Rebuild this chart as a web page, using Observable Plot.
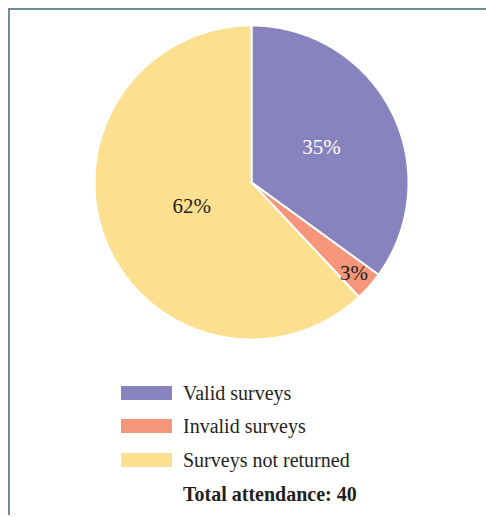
<!DOCTYPE html>
<html>
<head>
<meta charset="utf-8">
<script src="https://cdn.jsdelivr.net/npm/d3@7"></script>
<script src="https://cdn.jsdelivr.net/npm/@observablehq/plot@0.6"></script>
<style>
  html, body { margin: 0; padding: 0; background: #ffffff; }
  #wrap { position: relative; width: 486px; height: 517px; overflow: hidden; background: #fff; }
  #frame { position: absolute; left: 8px; top: 8px; right: -4px; bottom: 2px;
           border-top: 2px solid #6f8c9b; border-left: 2px solid #6f8c9b; }
  #chart { position: absolute; left: 0; top: 0; }
  .legend { position: absolute; left: 0; top: 0; font-family: "Liberation Serif", "DejaVu Serif", serif; color: #231f20; }
  .sw { position: absolute; left: 121px; width: 51px; height: 14px; }
  .lt { position: absolute; left: 183px; font-size: 20px; line-height: 20px; white-space: nowrap; }
</style>
</head>
<body>
<div id="wrap">
  <div id="frame"></div>
  <div id="chart"></div>
  <div class="legend" id="legend"></div>
</div>
<script>
// ---- data ----
const categories = ["Valid surveys", "Invalid surveys", "Surveys not returned"];
const percents = [35, 3, 62];
const colors = ["#8882be", "#f5967a", "#fde08f"];
const totalLabel = "Total attendance: 40";

// ---- layout constants ----
const W = 486, H = 360, CX = 251, CY = 182, R = 157;

// build slices from data (angles clockwise from top)
const total = d3.sum(percents);
let acc = 0;
const slices = categories.map((c, i) => {
  const a0 = acc / total * 2 * Math.PI;
  acc += percents[i];
  const a1 = acc / total * 2 * Math.PI;
  return { category: c, value: percents[i], a0, a1 };
});

const polyPoints = [];
for (const s of slices) {
  polyPoints.push({ category: s.category, x: 0, y: 0 });
  const n = Math.max(2, Math.ceil((s.a1 - s.a0) / (Math.PI / 360)));
  for (let k = 0; k <= n; k++) {
    const a = s.a0 + (s.a1 - s.a0) * k / n;
    polyPoints.push({ category: s.category, x: Math.sin(a), y: Math.cos(a) });
  }
}

const labelPts = slices.map(s => {
  const m = (s.a0 + s.a1) / 2;
  const f = s.value < 5 ? 0.87 : s.value > 50 ? 0.41 : 0.5;
  return { category: s.category, text: `${s.value}%`, x: f * Math.sin(m), y: f * Math.cos(m) };
});

const plot = Plot.plot({
  width: W,
  height: H,
  margin: 0,
  style: { background: "transparent" },
  x: { domain: [-CX / R, (W - CX) / R], range: [0, W], axis: null },
  y: { domain: [-(H - CY) / R, CY / R], range: [H, 0], axis: null },
  color: { domain: categories, range: colors },
  marks: [
    Plot.line(polyPoints, {
      x: "x", y: "y", z: "category", fill: "category",
      stroke: "white", strokeWidth: 2, curve: "linear-closed", strokeLinejoin: "round"
    }),
    Plot.text(labelPts, {
      x: "x", y: "y", text: "text",
      fill: d => d.category === categories[0] ? "#ffffff" : "#231f20",
      fontFamily: "Liberation Serif", fontSize: 21
    })
  ]
});
document.getElementById("chart").appendChild(plot);

// ---- legend ----
const legend = document.getElementById("legend");
const rowTops = [386, 419, 453];
categories.forEach((c, i) => {
  const sw = document.createElement("div");
  sw.className = "sw";
  sw.style.top = rowTops[i] + "px";
  sw.style.background = colors[i];
  legend.appendChild(sw);
  const t = document.createElement("div");
  t.className = "lt";
  t.style.top = (rowTops[i] - 3) + "px";
  t.textContent = c;
  legend.appendChild(t);
});
const tot = document.createElement("div");
tot.className = "lt";
tot.style.top = "484px";
tot.style.fontWeight = "bold";
tot.textContent = totalLabel;
legend.appendChild(tot);
</script>
</body>
</html>
